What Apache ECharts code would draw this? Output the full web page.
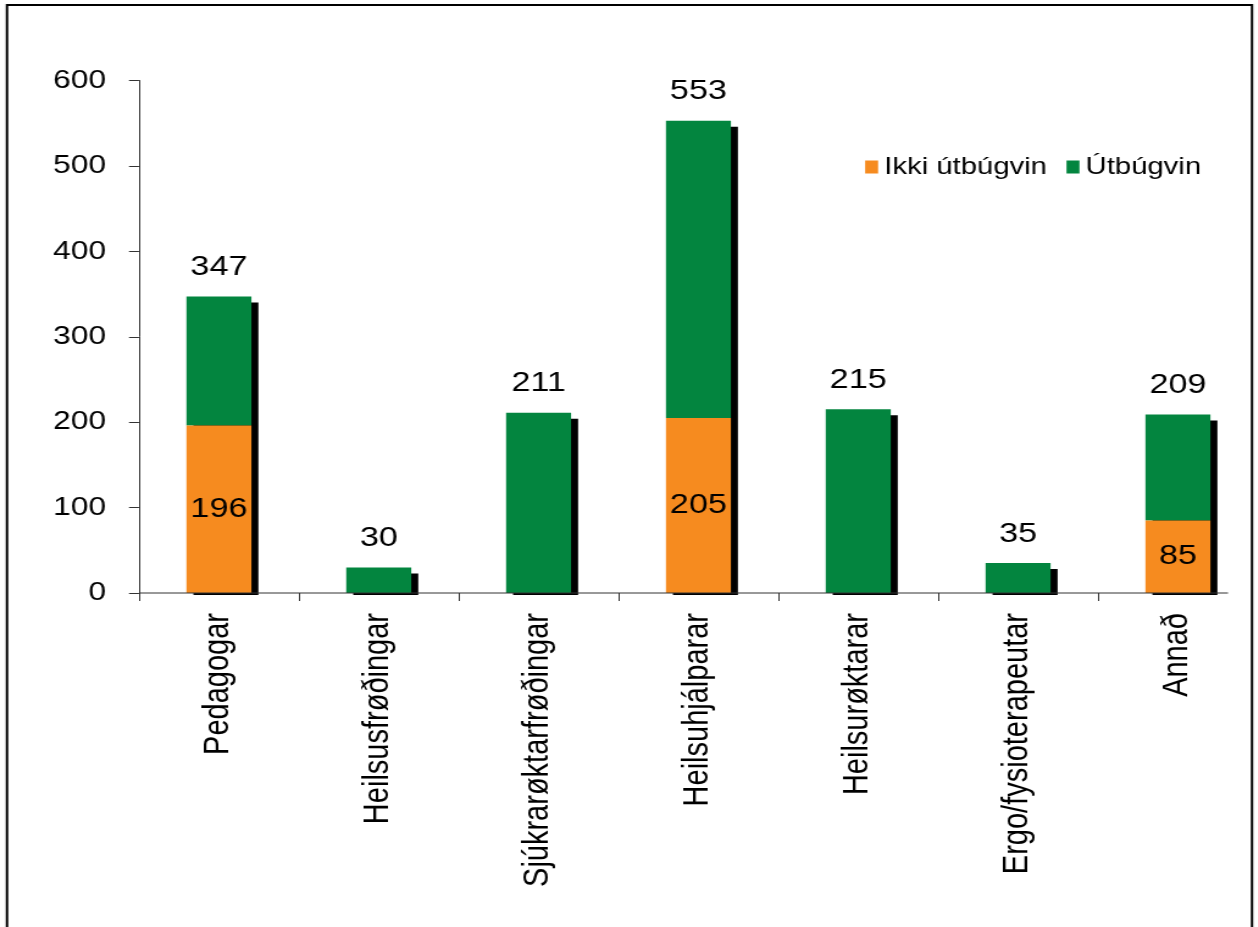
<!DOCTYPE html>
<html><head><meta charset="utf-8">
<script src="https://cdn.jsdelivr.net/npm/echarts@6/dist/echarts.min.js"></script>
<style>
html,body{margin:0;padding:0;background:#fff;overflow:hidden}
#wrap{width:1258px;height:927px;overflow:hidden;position:relative;background:#fff}
#c{width:1031px;height:927px;transform:scaleX(1.22);transform-origin:0 0}
</style></head>
<body><div id="wrap"><div id="c"></div></div>
<script>
const categories = ['Pedagogar','Heilsusfrøðingar','Sjúkrarøktarfrøðingar','Heilsuhjálparar','Heilsurøktarar','Ergo/fysioterapeutar','Annað'];
const seriesNames = ['Ikki útbúgvin','Útbúgvin'];
const notTrained = [196, 0, 0, 205, 0, 0, 85];
const trained = [151, 30, 211, 348, 215, 35, 124];
const totals = [347, 30, 211, 553, 215, 35, 209];
const yMin = 0, yMax = 600, yStep = 100;

const SX = 1.22;
const FONT = "'Liberation Sans', Arial, sans-serif";
const BW = 65 / SX;
const chart = echarts.init(document.getElementById('c'), null, {renderer:'canvas'});

chart.setOption({
  animation: false,
  backgroundColor: '#fff',
  textStyle: {fontFamily: FONT},
  grid: {left: 139 / SX, top: 80.5, width: 7 * 161.8 / SX, bottom: 927 - 593, containLabel: false},
  legend: {
    data: seriesNames, left: 859 / SX, top: 150, icon: 'rect',
    itemWidth: 13 / SX, itemHeight: 13, itemGap: 16,
    textStyle: {fontSize: 24, color: '#000', fontFamily: FONT}
  },
  xAxis: {
    type: 'category', data: categories,
    axisLine: {show: false},
    axisTick: {show: true, length: 8, lineStyle: {color: '#333'}},
    axisLabel: {rotate: 90, fontSize: 29, color: '#000', margin: 20, fontFamily: FONT, interval: 0}
  },
  yAxis: {
    type: 'value', min: yMin, max: yMax, interval: yStep,
    splitLine: {show: false},
    axisLine: {show: true, lineStyle: {color: '#333'}},
    axisTick: {show: true, length: 10 / SX, lineStyle: {color: '#333'}},
    axisLabel: {fontSize: 26, color: '#000', margin: 33 / SX, fontFamily: FONT}
  },
  series: [
    {
      type: 'custom', name: 'shadow', z: 1, silent: true,
      data: totals.map((v, i) => [i, v]),
      renderItem: function (params, api) {
        const i = api.value(0), v = api.value(1);
        const top = api.coord([i, v]);
        const base = api.coord([i, 0]);
        return {type: 'rect', shape: {x: top[0] - BW / 2 + 7 / SX, y: top[1] + 6, width: BW, height: base[1] - top[1] - 6 + 2}, style: {fill: '#000'}};
      }
    },
    {
      type: 'bar', name: seriesNames[0], stack: 'a', z: 3, barWidth: BW,
      data: notTrained, itemStyle: {color: '#F68B1F'},
      label: {show: true, position: 'inside', fontSize: 28, color: '#000', fontFamily: FONT,
        formatter: p => p.value > 0 ? String(p.value) : ''}
    },
    {
      type: 'bar', name: seriesNames[1], stack: 'a', z: 2, barWidth: BW,
      data: trained, itemStyle: {color: '#03853F'},
      label: {show: true, position: 'top', distance: 15, fontSize: 28, color: '#000', fontFamily: FONT,
        formatter: p => String(totals[p.dataIndex])}
    }
  ]
});

const y0 = chart.convertToPixel({yAxisIndex: 0}, 0);
chart.setOption({
  graphic: [
    {type: 'rect', id: 'frame', z: 100, silent: true,
      shape: {x: 7 / SX, y: 5, width: (1252 - 7) / SX, height: 1000},
      style: {fill: 'none', stroke: '#000', lineWidth: 2}},
    {type: 'line', id: 'xaxisline', z: 50, silent: true,
      shape: {x1: 139 / SX, y1: y0, x2: 1228 / SX, y2: y0},
      style: {stroke: '#333', lineWidth: 1}}
  ]
});
</script></body></html>
